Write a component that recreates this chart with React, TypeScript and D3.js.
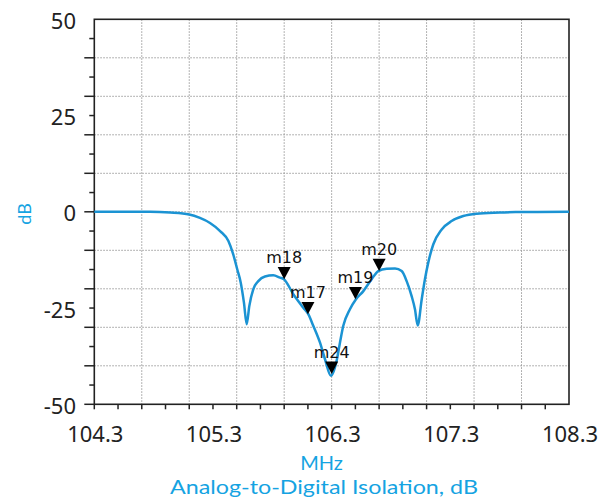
import React from "react";
import * as d3 from "d3";

const freqMHz = [104.3, 104.77, 104.94, 105.1, 105.19, 105.275, 105.36, 105.43, 105.47, 105.505, 105.534, 105.561, 105.584, 105.606, 105.64, 105.682, 105.738, 105.808, 105.865, 105.898, 105.977, 106.061, 106.103, 106.145, 106.202, 106.244, 106.294, 106.342, 106.37, 106.398, 106.454, 106.505, 106.567, 106.637, 106.693, 106.764, 106.834, 106.89, 106.932, 106.974, 107.002, 107.025, 107.059, 107.086, 107.114, 107.156, 107.227, 107.311, 107.409, 107.522, 107.718, 107.85, 108.3];
const isolationDb = [0, 0, -0.2, -0.7, -1.6, -2.9, -5, -7.6, -11, -15, -18.4, -23.6, -29.2, -24.5, -20.1, -18, -16.8, -16.5, -17.1, -17.5, -21.4, -24.9, -26.6, -29.6, -34, -38.3, -42.6, -38.7, -34, -29.6, -25.3, -22.7, -20.6, -17.5, -15.4, -14.8, -14.7, -15.4, -18, -21.9, -25.3, -29.5, -22.7, -17.5, -13.2, -8.5, -4.6, -2.4, -1.1, -0.5, -0.2, -0.05, 0];

const markerNames = ["m18", "m17", "m24", "m19", "m20"];
const markerFreq = [105.9, 106.1, 106.3, 106.5, 106.7];
const markerDb = [-17.5, -26.6, -42.1, -22.7, -15.4];

const xTickLabels = [104.3, 105.3, 106.3, 107.3, 108.3];
const yTickLabels = [50, 25, 0, -25, -50];

const W = 608;
const H = 502;
const LINE = "#1b93d3";
const LABEL = "#15a3e2";

export default function App() {
  const x = d3.scaleLinear().domain([104.3, 108.3]).range([94.3, 569]);
  const y = d3.scaleLinear().domain([-50, 50]).range([404.3, 19.3]);

  const xMinor = d3.range(0, 20).map((i) => 104.3 + i * 0.2);
  const xGrid = d3.range(1, 10).map((i) => 104.3 + i * 0.4);
  const yMinor = d3.range(-50, 50, 5);
  const yGrid = d3.range(-40, 41, 10);

  const pts = freqMHz.map((f, i) => [f, isolationDb[i]] as [number, number]);
  const line = d3
    .line<[number, number]>()
    .x((d) => x(d[0]))
    .y((d) => y(d[1]))
    .curve(d3.curveMonotoneX);

  const [x0, x1] = x.range();
  const [y0, y1] = y.range();

  return (
    <svg
      width={W}
      height={H}
      style={{ position: "absolute", left: 0, top: 0, background: "#fff" }}
    >
      {/* grid */}
      <g stroke="#9a9a9a" strokeWidth={1} strokeDasharray="1.5,1.5">
        {xGrid.map((v, i) => (
          <line key={"xg" + i} x1={x(v)} x2={x(v)} y1={y1} y2={y0} />
        ))}
        {yGrid.map((v, i) => (
          <line key={"yg" + i} x1={x0} x2={x1} y1={y(v)} y2={y(v)} />
        ))}
      </g>

      {/* ticks */}
      <g stroke="#222" strokeWidth={1.5}>
        {xMinor.map((v, i) => (
          <line key={"xt" + i} x1={x(v)} x2={x(v)} y1={y0} y2={y0 + 5} />
        ))}
        {yMinor.map((v, i) => (
          <line
            key={"yt" + i}
            x1={x0 - (Math.round(v) % 10 === 0 ? 10 : 5)}
            x2={x0}
            y1={y(v)}
            y2={y(v)}
          />
        ))}
      </g>

      {/* frame */}
      <rect
        x={x0}
        y={y1}
        width={x1 - x0}
        height={y0 - y1}
        fill="none"
        stroke="#222"
        strokeWidth={1.6}
      />

      {/* curve */}
      <path d={line(pts) || ""} fill="none" stroke={LINE} strokeWidth={2.5} strokeLinejoin="round" />

      {/* markers */}
      {markerNames.map((name, i) => {
        const px = x(markerFreq[i]);
        const py = y(markerDb[i]);
        return (
          <g key={name}>
            <path
              d={`M${px},${py} L${px - 6.5},${py - 12.3} L${px + 6.5},${py - 12.3} Z`}
              fill="#000"
            />
            <text
              x={px}
              y={py - 15.8}
              textAnchor="middle"
              fontFamily="DejaVu Sans"
              fontSize={16}
              fill="#111"
            >
              {name}
            </text>
          </g>
        );
      })}

      {/* tick labels */}
      <g fontFamily="Noto Sans" fontSize={22} fill="#222">
        {xTickLabels.map((v) => (
          <text key={"xl" + v} x={x(v) + 1} y={441.5} textAnchor="middle">
            {v.toFixed(1)}
          </text>
        ))}
        {yTickLabels.map((v) => (
          <text key={"yl" + v} x={76} y={y(v) + 9.5} textAnchor="end">
            {String(v)}
          </text>
        ))}
      </g>

      {/* axis titles */}
      <text
        transform="translate(31,214) rotate(-90)"
        textAnchor="middle"
        fontFamily="Lato"
        fontSize={18}
        fill={LABEL}
      >
        dB
      </text>
      <text
        x={321.5}
        y={470}
        textAnchor="middle"
        fontFamily="Lato"
        fontSize={20}
        fill={LABEL}
        textLength={42.7}
        lengthAdjust="spacingAndGlyphs"
      >
        MHz
      </text>
      <text
        x={324}
        y={494}
        textAnchor="middle"
        fontFamily="Lato"
        fontSize={20}
        fill={LABEL}
        textLength={308}
        lengthAdjust="spacingAndGlyphs"
      >
        Analog-to-Digital Isolation, dB
      </text>
    </svg>
  );
}
